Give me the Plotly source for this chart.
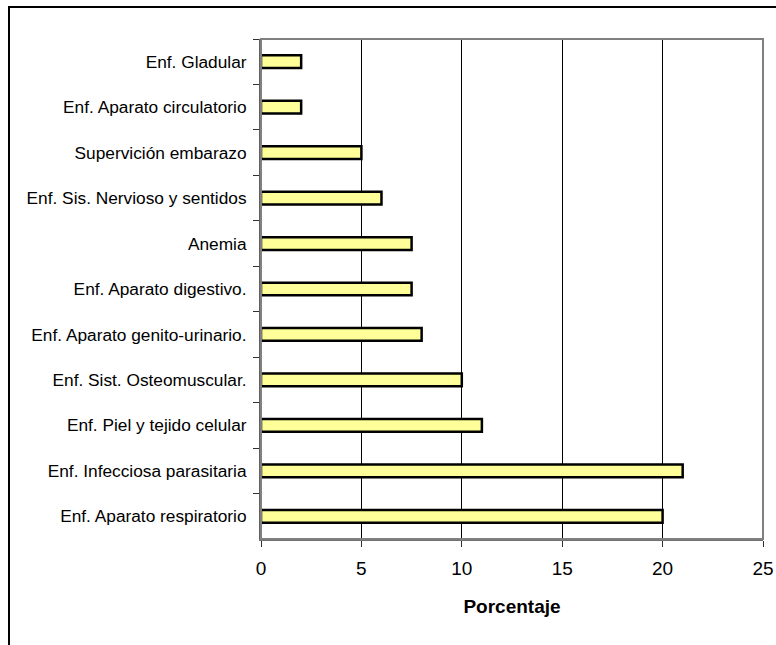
import plotly.graph_objects as go

categories = [
    "Enf. Gladular",
    "Enf. Aparato circulatorio",
    "Supervición embarazo",
    "Enf. Sis. Nervioso y sentidos",
    "Anemia",
    "Enf. Aparato digestivo.",
    "Enf. Aparato genito-urinario.",
    "Enf. Sist. Osteomuscular.",
    "Enf. Piel y tejido celular",
    "Enf. Infecciosa parasitaria",
    "Enf. Aparato respiratorio",
]
values = [2, 2, 5, 6, 7.5, 7.5, 8, 10, 11, 21, 20]
x_ticks = [0, 5, 10, 15, 20, 25]
x_title = "Porcentaje"

FONT = "Liberation Sans, Arial, sans-serif"

fig = go.Figure(
    go.Bar(
        x=values,
        y=categories,
        orientation="h",
        marker=dict(color="#FFFF99", line=dict(color="black", width=2.5)),
        hoverinfo="x+y",
    )
)

fig.update_layout(
    width=776,
    height=645,
    margin=dict(l=261, r=13, t=39, b=106),
    paper_bgcolor="white",
    plot_bgcolor="white",
    bargap=0.72,
    showlegend=False,
    font=dict(family=FONT, color="black"),
    xaxis=dict(
        range=[0, 25],
        tickvals=x_ticks,
        ticktext=[str(v) for v in x_ticks],
        automargin=False,
        showgrid=True,
        gridcolor="black",
        gridwidth=1,
        zeroline=False,
        showline=True,
        linecolor="#707070",
        linewidth=2,
        ticks="outside",
        ticklen=6,
        tickcolor="#303030",
        ticklabelstandoff=5,
        tickfont=dict(size=19, family=FONT, color="black"),
        title=dict(text="<b>" + x_title + "</b>", font=dict(size=19, family=FONT, color="black"), standoff=22),
        fixedrange=True,
    ),
    yaxis=dict(
        autorange="reversed",
        automargin=False,
        showgrid=False,
        zeroline=False,
        showline=True,
        linecolor="#606060",
        linewidth=2,
        ticks="outside",
        tickson="boundaries",
        ticklen=6,
        tickcolor="#303030",
        ticklabelstandoff=9,
        tickfont=dict(size=17.3, family=FONT, color="black"),
        fixedrange=True,
    ),
    shapes=[
        # plot area border (gray top/right)
        dict(type="rect", xref="paper", yref="paper", x0=0, y0=0, x1=1, y1=1,
             line=dict(color="#808080", width=2), layer="above"),
        # outer chart border (cropped at right/bottom)
        dict(type="rect", xref="paper", yref="paper",
             x0=(9 - 261) / 502, x1=(800 - 261) / 502,
             y0=(539 - 680) / 500, y1=(539 - 7) / 500,
             line=dict(color="black", width=2), layer="above"),
    ],
)

fig.write_html(
    "out.html",
    config={"displayModeBar": False},
    post_script="document.body.style.margin='0';document.body.style.overflow='hidden';",
)
